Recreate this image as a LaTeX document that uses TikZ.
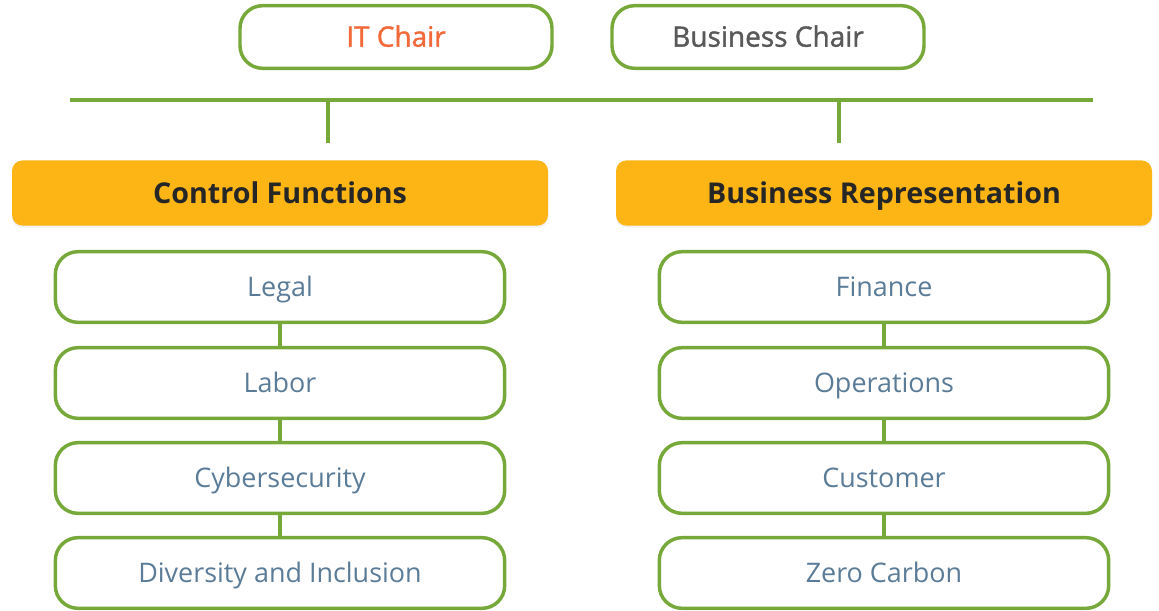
\documentclass[tikz,border=0pt]{standalone}
\usepackage{fontspec}
\setmainfont{Open Sans}
\newfontfamily\semifont[FakeBold=1.3]{Open Sans}
\usetikzlibrary{shadows}
\definecolor{leaf}{HTML}{77A83A}
\definecolor{amber}{HTML}{FDB515}
\definecolor{slate}{HTML}{5B7C98}
\definecolor{coral}{HTML}{F2693A}
\tikzset{
  chair/.style={draw=leaf, line width=2.6pt, rounded corners=17pt, fill=white,
    minimum width=234pt, minimum height=47pt, text height=15pt, text depth=0.5pt,
    font=\semifont\fontsize{21}{23}\selectfont},
  head/.style={fill=amber, rounded corners=8pt, minimum width=402pt, minimum height=49pt,
    text height=16pt, text depth=0.6pt,
    font=\bfseries\fontsize{21.5}{24}\selectfont, text=black!85,
    drop shadow={opacity=0.12, shadow xshift=0pt, shadow yshift=-1.5pt}},
  item/.style={draw=leaf, line width=2.6pt, rounded corners=17pt, fill=white,
    minimum width=337pt, minimum height=53pt, text height=15pt, text depth=0.7pt,
    text=slate, font=\fontsize{20.2}{22}\selectfont},
  link/.style={draw=leaf, line width=2.6pt}
}
\begin{document}
\begin{tikzpicture}[x=0.75pt, y=-0.75pt]
  \useasboundingbox (0,0) rectangle (1159,610);
  % chairs
  \node [chair, text=coral] (IT) at (396,37) {IT Chair};
  \node [chair, text=black!65] (BC) at (768,37) {Business Chair};
  % bar and ticks
  \coordinate (barL) at (70,100);
  \coordinate (barR) at (1093,100);
  \coordinate (tickL) at (328,100);
  \coordinate (tickLend) at (328,143);
  \coordinate (tickR) at (839,100);
  \coordinate (tickRend) at (839,143);
  \path[link] (barL) edge (barR);
  \path[link] (tickL) edge (tickLend);
  \path[link] (tickR) edge (tickRend);
  % group headers
  \node [head] (CF) at (280,193) {Control Functions};
  \node [head] (BR) at (884,193) {Business Representation};
  % left column
  \node [item] (Legal) at (280,287) {Legal};
  \node [item] (Labor) at (280,383) {Labor};
  \node [item] (Cyber) at (280,478) {Cybersecurity};
  \node [item] (DI) at (280,573) {Diversity and Inclusion};
  % right column
  \node [item] (Fin) at (884,287) {Finance};
  \node [item] (Ops) at (884,383) {Operations};
  \node [item] (Cust) at (884,478) {Customer};
  \node [item] (ZC) at (884,573) {Zero Carbon};
  \path[link] (Legal) edge (Labor);
  \path[link] (Labor) edge (Cyber);
  \path[link] (Cyber) edge (DI);
  \path[link] (Fin) edge (Ops);
  \path[link] (Ops) edge (Cust);
  \path[link] (Cust) edge (ZC);
\end{tikzpicture}
\end{document}
